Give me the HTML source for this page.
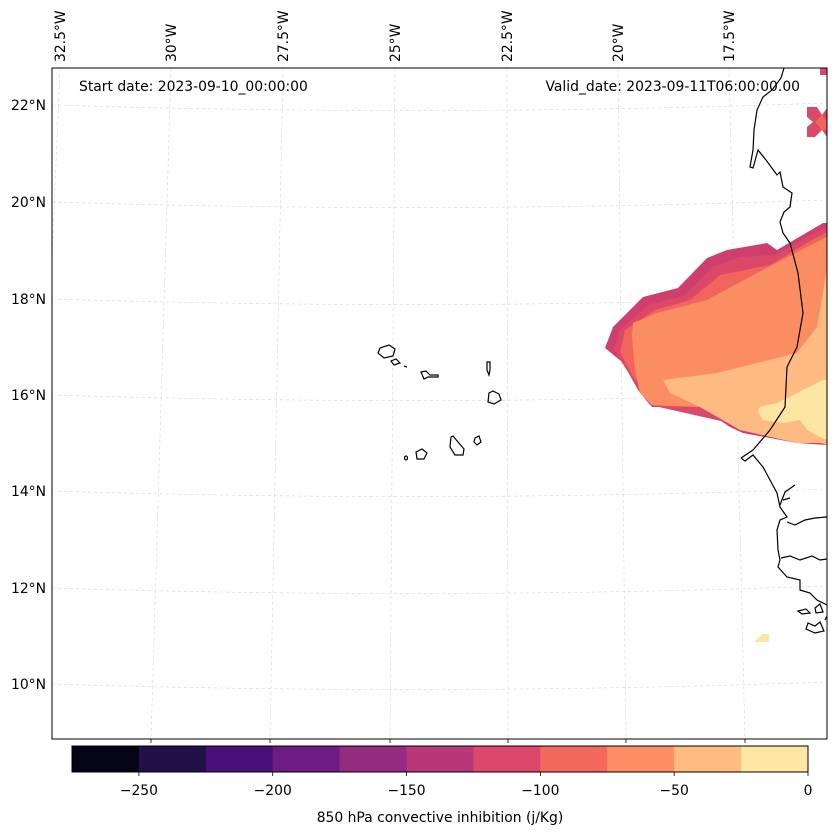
<!DOCTYPE html>
<html><head><meta charset="utf-8">
<style>
html,body{margin:0;padding:0;background:#fff;}
svg{display:block;font-family:"DejaVu Sans","Liberation Sans",sans-serif;}
</style></head>
<body>
<svg id="fig" width="837" height="836" viewBox="0 0 837 836" xmlns="http://www.w3.org/2000/svg">
<defs><clipPath id="mapclip"><rect x="52" y="68" width="775" height="671"/></clipPath></defs>
<g id="grid" clip-path="url(#mapclip)" stroke="#d4d4d4" stroke-width="0.6" stroke-dasharray="3,3" fill="none"></g>
<g id="fill" clip-path="url(#mapclip)">
  <polygon fill="#cf3f6e" points="605,348 613,327 643,297 678,288 707,258 727,250 767,243 777,250 823,223 827,223 827,445 797,443 743,433 730,427 700,407 652,407 640,387 632,370"/>
  <polygon fill="#dc4869" points="614,350 620,330 648,305 685,295 712,267 740,257 775,255 810,235 827,227 827,445 650,405 638,390 628,372"/>
  <polygon fill="#f1655c" points="620,352 625,330 655,310 690,300 720,275 770,265 812,240 827,232 827,445 700,407 655,406 645,392 632,375"/>
  <polygon fill="#fb8d62" points="632,337 633,323 657,313 707,300 757,273 807,247 827,237 827,445 700,407 652,405 640,393 635,370"/>
  <polygon fill="#febb81" points="663,380 717,373 757,363 797,353 817,327 823,293 827,267 827,445 823,443 797,443 740,430 700,407 670,393"/>
  <polygon fill="#fde6a4" points="760,407 777,403 797,393 823,380 827,380 827,440 820,437 807,430 800,420 783,423 763,420 758,412"/>
  <polygon fill="#dc4869" points="807,107 817,107 822,115 827,108 827,137 822,130 815,137 807,137 807,127 813,122 807,117"/>
  <polygon fill="#f1655c" points="815,122 822,115 827,122 827,130 822,130"/>
  <rect fill="#dc4869" x="820" y="68" width="7" height="7"/>
  <polygon fill="#fde6a4" points="755,641 762,634 769,634 769,642 755,642"/>
</g>
<g clip-path="url(#mapclip)" fill="none" stroke="#000" stroke-width="1.2">
  <path d="M784,68 L781,78 L772,90 L763,97 L757,110 L754,130 L753,150 L750,167 L753,168 L758,150 L766,160 L777,175 L780,172 L783,187 L792,193 L790,207 L784,212 L780,222 L783,233 L790,243 L798,273 L803,313 L797,347 L787,367 L785,407 L770,430 L753,450 L741,458"/>
  <path d="M741,458 L745,461 L753,455 L763,467 L770,480 L777,493 L780,507 L787,517 L780,520 L777,530 L778,550 L780,560 L778,567 L787,577 L800,580 L800,590 L810,593 L817,600 L827,605"/>
  <path d="M787,522 L795,525 L805,520 L815,518 L827,517"/>
  <path d="M781,558 L790,556 L800,560 L812,556 L820,560 L827,559"/>
  <path d="M780,505 L785,492 L795,485 M783,500 L790,498"/>
  <path d="M798,611 L806,609 L810,613 L802,614 Z M815,608 L820,604 L823,612 L816,613 Z M808,623 L815,626 L820,622 L824,631 L815,633 L806,629 Z M825,620 L827,616"/>
  <path d="M378,353 L380,348 L389,345 L395,349 L393,356 L384,358 Z"/>
  <path d="M391,361 L396,359 L400,363 L394,365 Z"/>
  <path d="M404,366 L407,367"/>
  <path d="M421,372 L426,371 L430,375 L438,375 L438,377 L428,377 L424,379 Z"/>
  <path d="M487,362 L490,362 L490,370 L489,375 L487,370 Z"/>
  <path d="M489,393 L493,391 L499,394 L501,400 L494,404 L488,402 Z"/>
  <path d="M475,438 L479,436 L481,442 L477,445 L474,442 Z"/>
  <path d="M451,437 L453,436 L458,442 L464,449 L463,455 L455,455 L450,447 Z"/>
  <path d="M416,452 L422,449 L427,453 L424,459 L417,459 Z"/>
  <ellipse cx="406" cy="458" rx="1.5" ry="2"/>
</g>
<rect x="52" y="68" width="775" height="671" fill="none" stroke="#000" stroke-width="1"/>
<g id="lonlabels" font-size="13.9" fill="#000"></g>
<g id="latlabels" font-size="13.9" fill="#000"></g>
<text x="79" y="91" font-size="13.9">Start date: 2023-09-10_00:00:00</text>
<text x="800" y="91" font-size="13.9" text-anchor="end">Valid_date: 2023-09-11T06:00:00.00</text>
<g id="cbar" font-size="13.9"></g>
<text x="440" y="822" font-size="13.9" text-anchor="middle">850 hPa convective inhibition (j/Kg)</text>
</svg>
<script>
const NS='http://www.w3.org/2000/svg';
const lonNames=['32.5°W','30°W','27.5°W','25°W','22.5°W','20°W','17.5°W'];
const lonTopX=[60,171,283,395,507,618,729];
const lonBotX=[32,151,270,390,508,626,745];
const latNames=['22°N','20°N','18°N','16°N','14°N','12°N','10°N'];
const latLeftY=[105,202,299,395,491,588,684];
const cbarBounds=[-275,-250,-225,-200,-175,-150,-125,-100,-75,-50,-25,0];
const cbarColors=['#050416','#211148','#4a1078','#6d1d81','#932b80','#b73779','#dc4869','#f3695c','#fc9064','#febc81','#fde7a3'];
const cbarTicks=[-250,-200,-150,-100,-50,0];
function mk(tag,attrs,parent){const e=document.createElementNS(NS,tag);for(const k in attrs)e.setAttribute(k,attrs[k]);parent.appendChild(e);return e;}
const grid=document.getElementById('grid');
for(let i=0;i<lonNames.length;i++){
  const l=mk('line',{x1:lonTopX[i],y1:68,x2:lonBotX[i],y2:739},grid);
  
  
}
for(let i=0;i<latNames.length;i++){
  const y=latLeftY[i];
  const p=mk('path',{d:`M52,${y} Q440,${y+12} 827,${y-2}`},grid);
  
  
}
const lonG=document.getElementById('lonlabels');
for(let i=0;i<lonNames.length;i++){
  const x=lonTopX[i]+5;
  const t=mk('text',{x:x,y:62,transform:`rotate(-90 ${x} 62)`},lonG);
  t.textContent=lonNames[i];
  
  
  if(lonBotX[i]>52){
    const tk=mk('line',{x1:lonBotX[i],y1:739,x2:lonBotX[i],y2:743,stroke:'#000','stroke-width':0.8},lonG);
    
    
  }
}
const latG=document.getElementById('latlabels');
for(let i=0;i<latNames.length;i++){
  const t=mk('text',{x:46,y:latLeftY[i]+5,'text-anchor':'end'},latG);
  t.textContent=latNames[i];
  
  
}
const cb=document.getElementById('cbar');
const cx0=72,cx1=808,cy0=746,cy1=772;
const vmin=cbarBounds[0],vmax=cbarBounds[cbarBounds.length-1];
function xs(v){return cx0+(v-vmin)/(vmax-vmin)*(cx1-cx0);}
for(let i=0;i<cbarColors.length;i++){
  const r=mk('rect',{x:xs(cbarBounds[i]),y:cy0,width:xs(cbarBounds[i+1])-xs(cbarBounds[i])+0.5,height:cy1-cy0,fill:cbarColors[i]},cb);
  
  
}
const fr=mk('rect',{x:cx0,y:cy0,width:cx1-cx0,height:cy1-cy0,fill:'none',stroke:'#000','stroke-width':1},cb);


for(const v of cbarTicks){
  const x=xs(v);
  const tk=mk('line',{x1:x,y1:cy1,x2:x,y2:cy1+4,stroke:'#000','stroke-width':0.8},cb);
  
  
  const t=mk('text',{x:x,y:795,'text-anchor':'middle'},cb);
  t.textContent=v<0?'\u2212'+Math.abs(v):String(v);
  
  
}
</script>
</body></html>
